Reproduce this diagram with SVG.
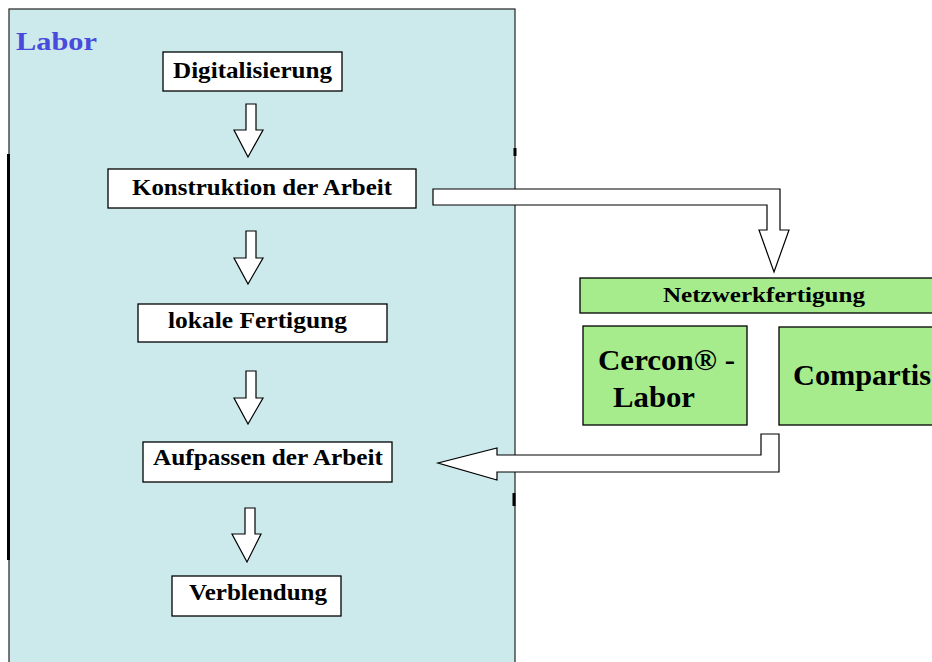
<svg xmlns="http://www.w3.org/2000/svg" width="932" height="662" viewBox="0 0 932 662">
<style>
.box{fill:#ffffff;stroke:#000;stroke-width:1.3}
.gbox{fill:#a6ec8c;stroke:#000;stroke-width:1.3}
.t{font-family:"Liberation Serif","Times New Roman",serif;font-weight:bold;fill:#000}
.arr{fill:#ffffff;stroke:#000;stroke-width:1.2;stroke-linejoin:miter}
</style>
<rect width="932" height="662" fill="#ffffff"/>
<g id="labor">
<rect x="9" y="9" width="506" height="660" fill="#cce9eb" stroke="#222" stroke-width="1.2"/>
<line x1="8.5" y1="154" x2="8.5" y2="560" stroke="#000" stroke-width="3"/>
<line x1="515" y1="148" x2="515" y2="156" stroke="#000" stroke-width="3"/>
<line x1="514" y1="493" x2="514" y2="506" stroke="#000" stroke-width="3"/>
<text x="16" y="50" class="t" font-size="26" style="fill:#4a4adc" textLength="81" lengthAdjust="spacingAndGlyphs">Labor</text>
</g>
<g id="digitalisierung">
<rect x="163" y="52" width="179" height="39" class="box"/>
<text x="173" y="78" class="t" font-size="23" textLength="159" lengthAdjust="spacingAndGlyphs">Digitalisierung</text>
</g>
<g id="konstruktion">
<rect x="108" y="169" width="308" height="39" class="box"/>
<text x="132" y="195" class="t" font-size="23" textLength="260" lengthAdjust="spacingAndGlyphs">Konstruktion der Arbeit</text>
</g>
<g id="lokale">
<rect x="138" y="304" width="249" height="38" class="box"/>
<text x="168" y="328" class="t" font-size="23" textLength="179" lengthAdjust="spacingAndGlyphs">lokale Fertigung</text>
</g>
<g id="aufpassen">
<rect x="143" y="442" width="249" height="40" class="box"/>
<text x="153" y="465" class="t" font-size="23" textLength="230" lengthAdjust="spacingAndGlyphs">Aufpassen der Arbeit</text>
</g>
<g id="verblendung">
<rect x="172" y="576" width="169" height="40" class="box"/>
<text x="189" y="600" class="t" font-size="23" textLength="138" lengthAdjust="spacingAndGlyphs">Verblendung</text>
</g>
<g id="netzwerk">
<rect x="580" y="278" width="360" height="35" class="gbox"/>
<text x="663" y="302" class="t" font-size="22" textLength="202" lengthAdjust="spacingAndGlyphs">Netzwerkfertigung</text>
</g>
<g id="cercon">
<rect x="583" y="326" width="164" height="99" class="gbox"/>
<text x="598" y="370" class="t" font-size="29" textLength="137" lengthAdjust="spacingAndGlyphs">Cercon® -</text>
<text x="613" y="407" class="t" font-size="29" textLength="82" lengthAdjust="spacingAndGlyphs">Labor</text>
</g>
<g id="compartis">
<rect x="779" y="327" width="160" height="98" class="gbox"/>
<text x="793" y="385" class="t" font-size="29" textLength="138" lengthAdjust="spacingAndGlyphs">Compartis</text>
</g>
<g id="connectors">
<path class="arr" d="M246,104 H256 V130 H263 L248,157 L234,130 H246 Z"/>
<path class="arr" d="M246,231 H256 V258 H263 L248,284 L234,258 H246 Z"/>
<path class="arr" d="M246,371 H256 V398 H263 L248,424 L234,398 H246 Z"/>
<path class="arr" d="M245,508 H255 V534 H261 L247,562 L232,534 H245 Z"/>
<path class="arr" d="M433,189 H780 V230 H789 L774,272 L759,230 H767 V205 H433 Z"/>
<path class="arr" d="M779,434 V472 H497 V480 L438,463 L497,448 V455 H761 V434 Z"/>
</g>
</svg>
